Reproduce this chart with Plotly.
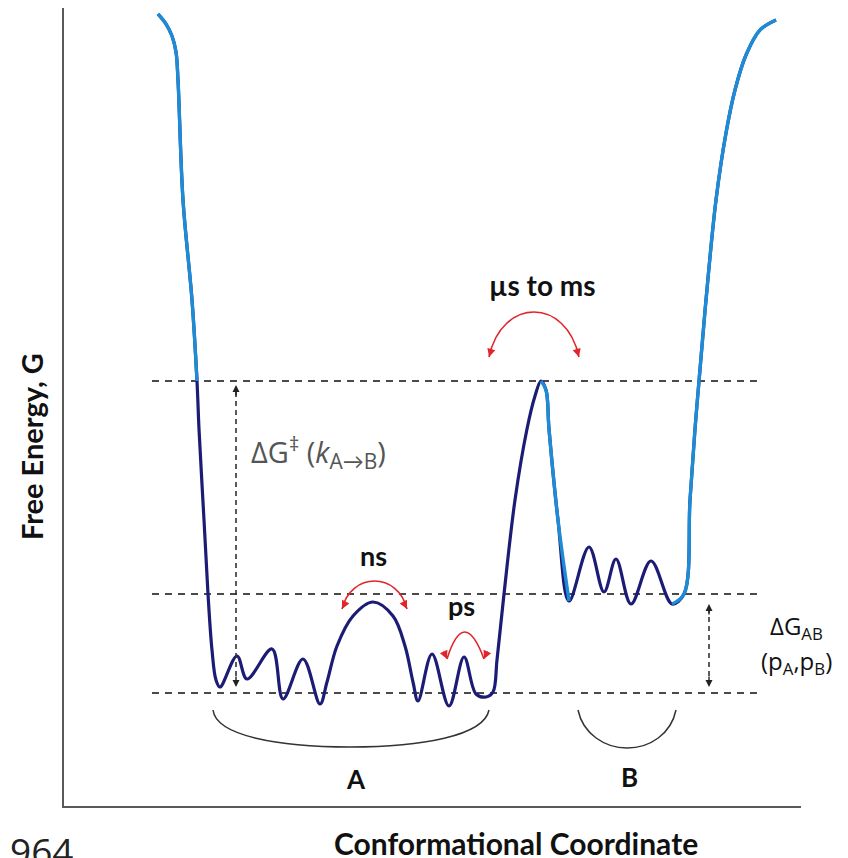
import plotly.graph_objects as go

# ---- data: free-energy landscape along the conformational coordinate ----
coord = [94, 102, 108, 112, 114, 119, 128, 133, 135, 140, 144, 148, 152, 156,
         173, 183, 208, 219, 239, 256, 263, 273, 289, 309, 329, 341, 349, 354,
         368, 385, 400, 412, 422, 429,
         433, 440, 451, 463, 471, 477, 482, 485, 494, 505,
         525, 540, 552, 567, 587, 608,
         620, 626, 631, 635, 642, 652, 662, 671, 682, 696, 712]
energy = [792, 782, 770, 754, 726, 606, 506, 425, 377, 286, 212, 156, 126, 119,
          150, 127, 157, 107, 147, 102, 124, 160, 190, 204, 190, 160, 124, 105,
          152, 100, 149, 112, 109, 114,
          146, 212, 306, 377, 410, 425, 416, 377, 286, 205,
          259, 214, 247, 202, 245, 202,
          212, 306, 377, 425, 506, 606, 673, 716, 751, 776, 786]

# light-blue overlay segments (index ranges into the curve above)
light_segments = [(0, 8), (39, 44), (49, 61)]

# reference energy levels (dashed lines): barrier top, state B, state A
level_names = ["barrier", "B", "A"]
level_G = [425, 212, 113]
level_x = [88, 693]

timescale_labels = ["µs to ms", "ns", "ps"]
state_labels = ["A", "B"]

NAVY = "#1c1c76"
LIGHT = "#1e8bd6"
RED = "#e0262b"
GREY = "#4a4a4a"
LATO = "Lato, 'Open Sans', sans-serif"
OPEN = "'Open Sans', Lato, sans-serif"

fig = go.Figure()

fig.add_trace(go.Scatter(x=coord, y=energy, mode="lines",
                         line=dict(color=NAVY, width=3.2, shape="spline", smoothing=1.0),
                         hoverinfo="skip", showlegend=False))
for a, b in light_segments:
    fig.add_trace(go.Scatter(x=coord[a:b], y=energy[a:b], mode="lines",
                             line=dict(color=LIGHT, width=3.4, shape="spline", smoothing=1.0),
                             hoverinfo="skip", showlegend=False))

shapes = []
for g in level_G:
    shapes.append(dict(type="line", xref="x", yref="y", x0=level_x[0], x1=level_x[1],
                       y0=g, y1=g, line=dict(color=GREY, width=2, dash="7px,6px"), layer="below"))

def vdash(x, y0, y1):
    shapes.append(dict(type="line", xref="x", yref="y", x0=x, x1=x, y0=y0, y1=y1,
                       line=dict(color="#333", width=1.6, dash="5px,4px")))

vdash(172, 121, 419)
vdash(645, 121, 200)

def arc(x0, x1, y_end, y_top, inset):
    yc = (y_top - 0.25 * y_end) / 0.75
    p = f"M {x0},{y_end} C {x0+inset},{yc} {x1-inset},{yc} {x1},{y_end}"
    shapes.append(dict(type="path", xref="x", yref="y", path=p,
                       line=dict(color=RED, width=1.6)))

arc(425, 515, 449, 494, 13)     # µs to ms
arc(278, 343, 197, 225, 9)      # ns
shapes.append(dict(type="path", xref="x", yref="y",
                   path="M 383,147 Q 400,201 420,147",
                   line=dict(color=RED, width=1.6)))  # ps

# braces under states
shapes.append(dict(type="path", xref="x", yref="y",
                   path="M 149,96 C 152,70 215,59 286,59 C 357,59 420,70 425,96",
                   line=dict(color="#333", width=1.5)))
shapes.append(dict(type="path", xref="x", yref="y",
                   path="M 514,96 C 519,72 541,58 563,58 C 586,58 607,72 612,96",
                   line=dict(color="#333", width=1.5)))

ann = []
def arrowhead(x, y, ax, ay, color, w=1.5, size=1.1):
    ann.append(dict(x=x, y=y, xref="x", yref="y", ax=ax, ay=ay, axref="pixel", ayref="pixel",
                    text="", showarrow=True, arrowhead=2, arrowsize=size, arrowwidth=w,
                    arrowcolor=color))

arrowhead(172, 421, 0, 12, "#222", 1.4, 1.0)
arrowhead(172, 119, 0, -12, "#222", 1.4, 1.0)
arrowhead(645, 202, 0, 12, "#222", 1.4, 1.0)
arrowhead(645, 119, 0, -12, "#222", 1.4, 1.0)

arrowhead(425, 449, 3, -10, RED)
arrowhead(515, 449, -3, -10, RED)
arrowhead(278, 197, 4, -8, RED)
arrowhead(343, 197, -4, -8, RED)
arrowhead(383, 147, -4, -9, RED)
arrowhead(420, 147, 4, -9, RED)

def label(x, y, text, family, size, color="#111", ref="x", **kw):
    d = dict(x=x, y=y, xref=ref, yref=("y" if ref == "x" else "paper"), text=text,
             showarrow=False, font=dict(family=family, size=size, color=color),
             xanchor="center", yanchor="middle")
    d.update(kw)
    ann.append(d)

label(478, 521, "<b>" + timescale_labels[0] + "</b>", LATO, 28)
label(309, 251, "<b>" + timescale_labels[1] + "</b>", LATO, 27)
label(397, 201, "<b>" + timescale_labels[2] + "</b>", LATO, 27)
label(292, 27, "<b>" + state_labels[0] + "</b>", LATO, 26)
label(565, 29, "<b>" + state_labels[1] + "</b>", LATO, 26)

label(185, 354,
      "ΔG<sup>‡</sup>\u00a0(<i>k</i><sub><span style=\"font-size:21px\">A→B</span></sub>)",
      OPEN, 29, "#555", xanchor="left")
label(732, 179, "ΔG<sub>AB</sub>", OPEN, 24)
label(732, 144, "(p<sub>A</sub>,p<sub>B</sub>)", OPEN, 24)

# texts outside the plotting area (paper coordinates)
label(-0.0448, 0.451, "<b>Free Energy, G</b>", LATO, 29, ref="paper", textangle=-90)
label(0.613, -0.046, "<b>Conformational Coordinate</b>", LATO, 30, ref="paper")
label(-0.030, -0.056, "964", OPEN, 37, "#222", ref="paper")

# page body has an 8px default margin: figure is sized/offset to compensate
fig.update_layout(
    width=840, height=850,
    margin=dict(l=56, r=47, t=0, b=52),
    paper_bgcolor="white", plot_bgcolor="white",
    shapes=shapes, annotations=ann,
    xaxis=dict(range=[0, 737], showgrid=False, zeroline=False, showticklabels=False,
               ticks="", showline=True, linecolor="#5a5a5a", linewidth=2, fixedrange=True),
    yaxis=dict(range=[0, 798], showgrid=False, zeroline=False, showticklabels=False,
               ticks="", showline=True, linecolor="#5a5a5a", linewidth=2, fixedrange=True),
    showlegend=False,
)

fig.write_html("out.html")
